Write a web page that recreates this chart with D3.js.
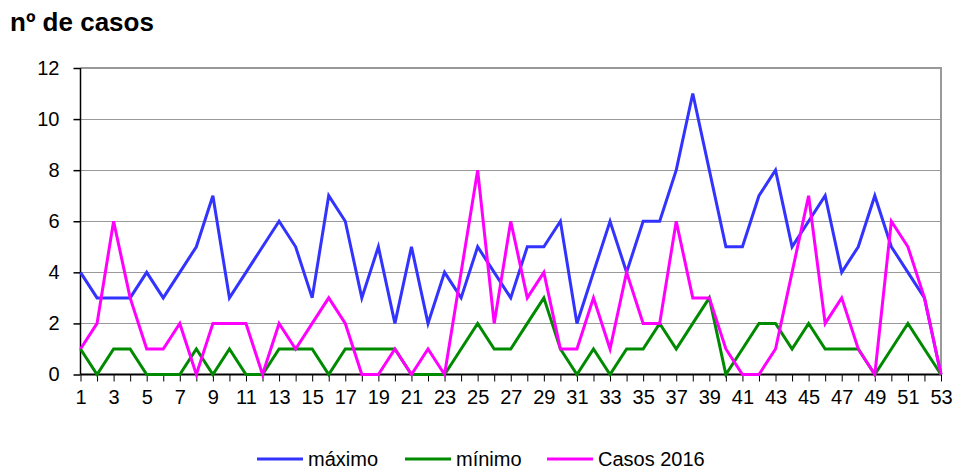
<!DOCTYPE html>
<meta charset="utf-8">
<style>
    body {
        margin: 0;
        background: #fff;
    }

    svg {
        font-family: "Liberation Sans", Arial, sans-serif;
    }

    .axis text {
        font-size: 20px;
        fill: #000;
    }
</style>
<body>
<script src="https://cdn.jsdelivr.net/npm/d3@7"></script>
<script>
    // weeks 1..53
    const weeks = d3.range(1, 54);
    const maximo = [4, 3, 3, 3, 4, 3, 4, 5, 7, 3, 4, 5, 6, 5, 3, 7, 6, 3, 5, 2, 5, 2, 4, 3, 5, 4, 3,
        5, 5, 6, 2, 4, 6, 4, 6, 6, 8, 11, 8, 5, 5, 7, 8, 5, 6, 7, 4, 5, 7, 5, 4, 3, 0];
    const minimo = [1, 0, 1, 1, 0, 0, 0, 1, 0, 1, 0, 0, 1, 1, 1, 0, 1, 1, 1, 1, 0, 0, 0, 1, 2, 1, 1,
        2, 3, 1, 0, 1, 0, 1, 1, 2, 1, 2, 3, 0, 1, 2, 2, 1, 2, 1, 1, 1, 0, 1, 2, 1, 0];
    const casos2016 = [1, 2, 6, 3, 1, 1, 2, 0, 2, 2, 2, 0, 2, 1, 2, 3, 2, 0, 0, 1, 0, 1, 0, 4, 8, 2, 6,
        3, 4, 1, 1, 3, 1, 4, 2, 2, 6, 3, 3, 1, 0, 0, 1, 4, 7, 2, 3, 1, 0, 6, 5, 3, 0];
    const yTicks = [0, 2, 4, 6, 8, 10, 12];

    const series = [
        {name: "máximo", values: maximo, color: "#3333ff"},
        {name: "mínimo", values: minimo, color: "#008a00"},
        {name: "Casos 2016", values: casos2016, color: "#ff00ff"}
    ];

    const width = 957, height = 471;
    const plot = {left: 80.5, right: 941, top: 68, bottom: 374.5};

    const svg = d3.select("body").append("svg")
        .attr("width", width)
        .attr("height", height);

    const x = d3.scaleLinear().domain([1, 53]).range([plot.left, plot.right]);
    const y = d3.scaleLinear().domain([0, 12]).range([plot.bottom, plot.top]);

    // title
    svg.append("text")
        .attr("x", 10)
        .attr("y", 31)
        .style("font-size", "26px")
        .style("font-weight", "bold")
        .text("nº de casos");

    // gridlines
    svg.append("g")
        .selectAll("line")
        .data(yTicks.filter(d => d > 0 && d < 12))
        .enter().append("line")
        .attr("x1", plot.left).attr("x2", plot.right)
        .attr("y1", d => Math.round(y(d)) + 0.5)
        .attr("y2", d => Math.round(y(d)) + 0.5)
        .attr("stroke", "#333")
        .attr("stroke-width", 1)
        .attr("stroke-dasharray", "1,1");

    // border top / right
    svg.append("path")
        .attr("d", `M${plot.left},${y(12)}H${plot.right}V${plot.bottom}`)
        .attr("fill", "none")
        .attr("stroke", "#999")
        .attr("stroke-width", 2);

    // y axis
    const yAxis = d3.axisLeft(y).tickValues(yTicks).tickSize(7).tickPadding(14);
    svg.append("g")
        .attr("class", "axis")
        .attr("transform", `translate(${plot.left},0)`)
        .call(yAxis)
        .call(g => g.selectAll("line, path").attr("stroke", "#000").attr("stroke-width", 1.5))
        .call(g => g.select(".domain").attr("d", `M0,${y(12)}V${plot.bottom}`));

    // x axis
    const xAxis = d3.axisBottom(x).tickValues(weeks).tickSize(7).tickPadding(8)
        .tickFormat(d => d % 2 === 1 ? d : "");
    svg.append("g")
        .attr("class", "axis")
        .attr("transform", `translate(0,${plot.bottom})`)
        .call(xAxis)
        .call(g => g.selectAll("line").attr("stroke", "#000").attr("stroke-width", 1))
        .call(g => g.select(".domain").attr("d", `M${plot.left},0H${plot.right}`).attr("stroke", "#000").attr("stroke-width", 2));

    // lines
    const line = d3.line()
        .x((d, i) => x(weeks[i]))
        .y(d => y(d));

    svg.append("g")
        .selectAll("path")
        .data(series)
        .enter().append("path")
        .attr("d", d => line(d.values))
        .attr("fill", "none")
        .attr("stroke", d => d.color)
        .attr("stroke-width", 3)
        .attr("stroke-linejoin", "miter");

    // legend
    const legendX = [257, 405, 547];
    const legend = svg.append("g")
        .selectAll("g")
        .data(series)
        .enter().append("g")
        .attr("transform", (d, i) => `translate(${legendX[i]},459)`);

    legend.append("line")
        .attr("x1", 0).attr("x2", 46)
        .attr("stroke", d => d.color)
        .attr("stroke-width", 3);

    legend.append("text")
        .attr("x", 51)
        .attr("y", 7)
        .style("font-size", "20px")
        .text(d => d.name);
</script>
</body>
